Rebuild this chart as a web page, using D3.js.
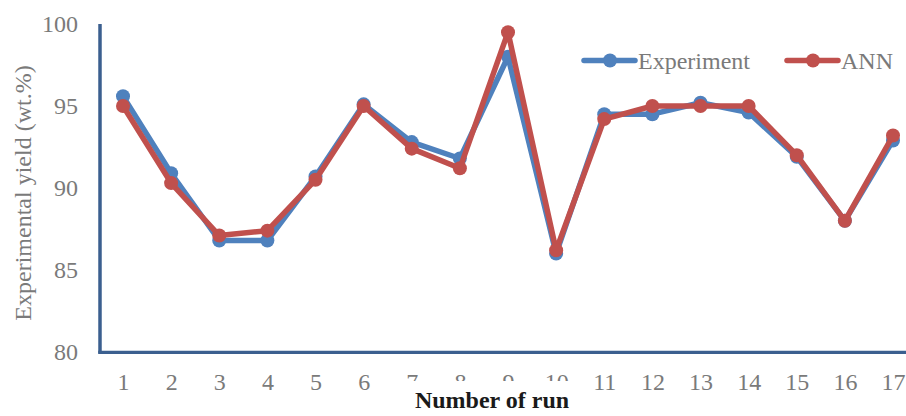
<!DOCTYPE html>
<html>
<head>
<meta charset="utf-8">
<script src="https://cdn.jsdelivr.net/npm/d3@7"></script>
<style>
  html, body { margin: 0; padding: 0; background: #fff; }
  svg { display: block; }
  text { font-family: "Liberation Serif", "Times New Roman", serif; }
</style>
</head>
<body>
<div id="chart"></div>
<script>
// ---- data ----
const runs = ["1","2","3","4","5","6","7","8","9","10","11","12","13","14","15","16","17"];
const experiment = [95.6, 90.9, 86.8, 86.8, 90.7, 95.1, 92.8, 91.8, 98.0, 86.0, 94.5, 94.5, 95.2, 94.6, 91.9, 88.0, 92.9];
const ann        = [95.0, 90.3, 87.1, 87.4, 90.5, 95.0, 92.4, 91.2, 99.5, 86.2, 94.2, 95.0, 95.0, 95.0, 92.0, 88.0, 93.2];
const yTicks = [80, 85, 90, 95, 100];
const seriesNames = ["Experiment", "ANN"];
const seriesColors = ["#4F81BD", "#C0504D"];

const W = 906, H = 416;
const svg = d3.select("#chart").append("svg").attr("width", W).attr("height", H);

const x = d3.scalePoint().domain(runs).range([123, 893]);
const y = d3.scaleLinear().domain([80, 100]).range([352, 24]);

const axisColor = "#3B5F8F";
const labelColor = "#7a7a7a";

// y tick labels
const yAxis = d3.axisLeft(y).tickValues(yTicks).tickSize(0).tickPadding(22);
const gy = svg.append("g").attr("transform", "translate(100,0)").call(yAxis);
gy.select(".domain").remove();
gy.selectAll("text")
  .attr("fill", labelColor)
  .style("font-size", "24px")
  .style("font-family", "Liberation Serif, serif");

// x tick labels
const xAxis = d3.axisBottom(x).tickSize(0).tickPadding(0);
const gx = svg.append("g").attr("transform", "translate(0,352)").call(xAxis);
gx.select(".domain").remove();
gx.selectAll("text")
  .attr("fill", labelColor)
  .attr("dy", null)
  .attr("y", 38)
  .style("font-size", "24px")
  .style("font-family", "Liberation Serif, serif");

// axis lines
svg.append("line").attr("x1", 100).attr("x2", 100).attr("y1", 24).attr("y2", 353.5)
  .attr("stroke", axisColor).attr("stroke-width", 3.5);
svg.append("line").attr("x1", 98.25).attr("x2", W).attr("y1", 352.3).attr("y2", 352.3)
  .attr("stroke", axisColor).attr("stroke-width", 3.2);

// series
const allSeries = [experiment, ann];
const line = d3.line().x((d, i) => x(runs[i])).y(d => y(d));
allSeries.forEach((vals, si) => {
  const g = svg.append("g");
  g.append("path").datum(vals)
    .attr("d", line)
    .attr("fill", "none")
    .attr("stroke", seriesColors[si])
    .attr("stroke-width", 5.5)
    .attr("stroke-linejoin", "round")
    .attr("stroke-linecap", "round");
  g.selectAll("circle").data(vals).join("circle")
    .attr("cx", (d, i) => x(runs[i]))
    .attr("cy", d => y(d))
    .attr("r", 7)
    .attr("fill", seriesColors[si]);
});

// legend
const legendPos = [{x: 584, tx: 638}, {x: 787, tx: 841}];
seriesNames.forEach((name, i) => {
  const lg = svg.append("g");
  const lp = legendPos[i];
  lg.append("line").attr("x1", lp.x).attr("x2", lp.x + 51).attr("y1", 60.5).attr("y2", 60.5)
    .attr("stroke", seriesColors[i]).attr("stroke-width", 5.5).attr("stroke-linecap", "round");
  lg.append("circle").attr("cx", lp.x + 26).attr("cy", 60.5).attr("r", 7).attr("fill", seriesColors[i]);
  lg.append("text").attr("x", lp.tx).attr("y", 68.5).attr("fill", labelColor)
    .style("font-size", "24px").text(name);
});

// y axis title
svg.append("text")
  .attr("transform", "translate(31,193) rotate(-90)")
  .attr("text-anchor", "middle")
  .attr("fill", labelColor)
  .style("font-size", "24px")
  .text("Experimental yield (wt.%)");

// x axis title with white backing
svg.append("rect").attr("x", 402).attr("y", 381).attr("width", 182).attr("height", 35).attr("fill", "#fff");
svg.append("text")
  .attr("x", 492).attr("y", 408)
  .attr("text-anchor", "middle")
  .attr("fill", "#1a1a1a")
  .style("font-size", "24px")
  .style("font-weight", "bold")
  .text("Number of run");
</script>
</body>
</html>
